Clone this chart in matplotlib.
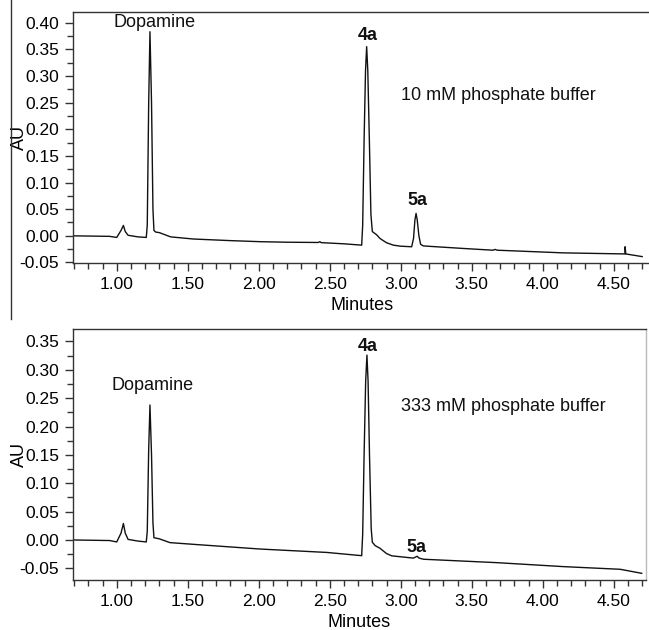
import matplotlib
matplotlib.use("Agg")
import matplotlib.pyplot as plt
from matplotlib.ticker import MultipleLocator, FormatStrFormatter
from matplotlib.lines import Line2D

plt.rcParams["font.family"] = ["Liberation Sans", "DejaVu Sans"]

# Cromatograma superior: 10 mM buffer fosfato (minutos, AU)
t_10mM = [0.69, 0.95, 1.00, 1.03, 1.047, 1.06, 1.08, 1.15, 1.208, 1.215, 1.225, 1.234,
          1.245, 1.255, 1.262, 1.275, 1.30, 1.34, 1.38, 1.54, 1.80, 2.01, 2.20, 2.42,
          2.43, 2.44, 2.60, 2.725, 2.732, 2.742, 2.752, 2.760, 2.768, 2.779, 2.790,
          2.80, 2.83, 2.854, 2.90, 2.948, 3.00, 3.077, 3.09, 3.100, 3.108, 3.116, 3.128,
          3.14, 3.16, 3.44, 3.65, 3.664, 3.68, 4.145, 4.579, 4.58, 4.585, 4.70]
au_10mM = [0.000, -0.001, -0.003, 0.010, 0.0195, 0.008, 0.001, -0.002, -0.003, 0.02,
           0.25, 0.383, 0.25, 0.05, 0.010, 0.007, 0.006, 0.002, -0.002, -0.006, -0.009,
           -0.011, -0.012, -0.0125, -0.011, -0.0128, -0.015, -0.0175, 0.02, 0.18, 0.31,
           0.355, 0.31, 0.18, 0.04, 0.008, 0.002, -0.005, -0.013, -0.0175, -0.0195,
           -0.0205, -0.005, 0.030, 0.042, 0.030, 0.000, -0.016, -0.019, -0.0237, -0.027,
           -0.0255, -0.027, -0.032, -0.034, -0.0205, -0.034, -0.039]

# Cromatograma inferior: 333 mM buffer fosfato
t_333mM = [0.69, 0.95, 1.00, 1.03, 1.047, 1.06, 1.08, 1.15, 1.208, 1.215, 1.225, 1.234,
           1.245, 1.255, 1.262, 1.30, 1.375, 1.54, 2.01, 2.48, 2.725, 2.732, 2.742, 2.753,
           2.762, 2.770, 2.780, 2.792, 2.80, 2.82, 2.854, 2.90, 2.937, 3.089, 3.115, 3.13,
           3.16, 3.676, 4.145, 4.545, 4.697]
au_333mM = [0.000, -0.001, -0.0035, 0.012, 0.029, 0.012, 0.001, -0.002, -0.0035, 0.015,
            0.16, 0.238, 0.15, 0.03, 0.004, 0.002, -0.0047, -0.0077, -0.016, -0.022,
            -0.0277, 0.01, 0.15, 0.28, 0.326, 0.28, 0.15, 0.02, -0.004, -0.010, -0.0147,
            -0.024, -0.028, -0.032, -0.0288, -0.032, -0.034, -0.040, -0.047, -0.0517,
            -0.0588]

# Etiquetas de picos: (texto, x, y, negrita)
picos_10mM = [("Dopamine", 1.263, 0.400, False), ("4a", 2.767, 0.376, True),
              ("5a", 3.12, 0.066, True)]
picos_333mM = [("Dopamine", 1.252, 0.272, False), ("4a", 2.767, 0.341, True),
               ("5a", 3.113, -0.0135, True)]

gris = "#333333"


def graficar(ax, t, au, picos, buffer, y_buffer, ylim, yticks_max, xmax):
    ax.plot(t, au, color="#111111", lw=1.0)
    for texto, x, y, negrita in picos:
        ax.text(x, y, texto, ha="center", va="center", fontsize=13,
                fontweight="bold" if negrita else "normal", color="#111111")
    ax.text(3.005, y_buffer, buffer, ha="left", va="center", fontsize=13, color="#111111")
    ax.set_xlim(0.692, xmax)
    ax.set_ylim(*ylim)
    ax.xaxis.set_minor_locator(MultipleLocator(0.1))
    ax.yaxis.set_minor_locator(MultipleLocator(0.025))
    ax.xaxis.set_major_formatter(FormatStrFormatter("%.2f"))
    ax.yaxis.set_major_formatter(FormatStrFormatter("%.2f"))
    ax.set_xticks([1.0, 1.5, 2.0, 2.5, 3.0, 3.5, 4.0, 4.5])
    ax.set_yticks([v / 100 for v in range(-5, yticks_max + 1, 5)])
    ax.tick_params(which="major", direction="out", length=6, width=1, color=gris,
                   labelsize=12.5, pad=4)
    ax.tick_params(which="minor", direction="out", length=4, width=1, color=gris)
    for s in ax.spines.values():
        s.set_color(gris)
        s.set_linewidth(1.0)
    ax.set_xlabel("Minutes", fontsize=13, labelpad=4)
    ax.set_ylabel("AU", fontsize=13, labelpad=-6)


fig = plt.figure(figsize=(6.49, 6.30), dpi=100)
ax1 = fig.add_axes([73 / 649, 1 - 263 / 630, (652 - 73) / 649, 251 / 630])
ax2 = fig.add_axes([73 / 649, 1 - 580 / 630, (646 - 73) / 649, 251 / 630])

graficar(ax1, t_10mM, au_10mM, picos_10mM, "10 mM phosphate buffer", 0.264,
         (-0.051, 0.42), 40, 0.692 + (652 - 73) / 142)
graficar(ax2, t_333mM, au_333mM, picos_333mM, "333 mM phosphate buffer", 0.236,
         (-0.0706, 0.372), 35, 0.692 + (646 - 73) / 142)
ax2.spines["right"].set_color("#bbbbbb")

# Línea vertical del recorte original a la izquierda
fig.add_artist(Line2D([11 / 649, 11 / 649], [1.0, 1 - 319 / 630], color=gris, lw=1.0))

fig.savefig("out.png", dpi=100)
